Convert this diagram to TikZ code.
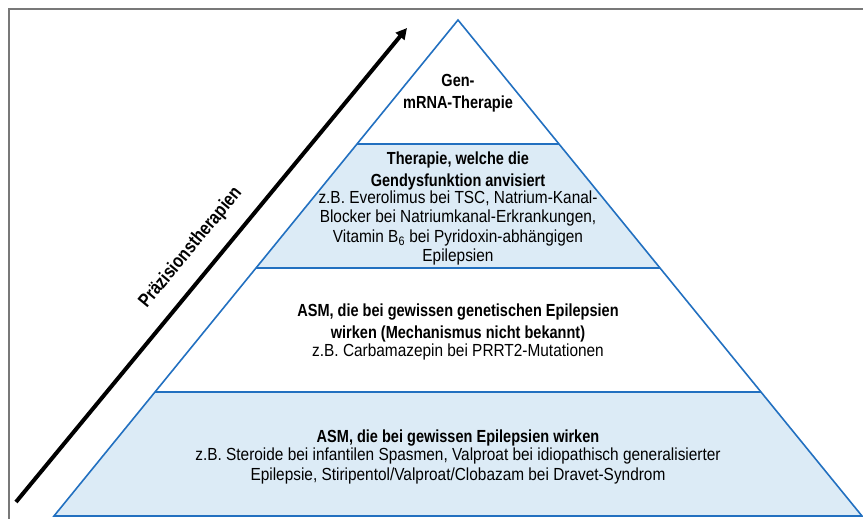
\documentclass[tikz,border=0pt]{standalone}
\usepackage{fontspec}
\setmainfont{Liberation Sans}[FakeStretch=0.88, BoldFeatures={FakeStretch=0.83}]
\usetikzlibrary{arrows.meta}
\usetikzlibrary{positioning}

\definecolor{pyrblue}{RGB}{34,112,192}
\definecolor{pyrfill}{RGB}{220,235,246}
\definecolor{framegray}{RGB}{120,120,120}

\begin{document}
\begin{tikzpicture}[x=1pt,y=-1pt,
    layer/.style={draw=pyrblue, line width=1.6pt, line join=miter},
    head/.style={align=center, inner sep=0pt, font=\bfseries\fontsize{17.5}{22.5}\selectfont},
    body/.style={align=center, inner sep=0pt, font=\fontsize{17.5}{19.5}\selectfont},
    precision/.style={line width=4pt, -{Triangle[length=11pt,width=11pt]}}]
  \useasboundingbox (0,0) rectangle (863,519);
  \draw[framegray, line width=1.2pt] (9,519) -- (9,9) -- (863,9);

  \coordinate (apex) at (458,20);
  \coordinate (l1) at (357,144);
  \coordinate (r1) at (559,144);
  \coordinate (l2) at (256,268);
  \coordinate (r2) at (660,268);
  \coordinate (l3) at (155,392);
  \coordinate (r3) at (761,392);
  \coordinate (l4) at (54,516);
  \coordinate (r4) at (862,516);

  \fill[pyrfill] (l1) -- (r1) -- (r2) -- (l2) -- cycle;
  \fill[pyrfill] (l3) -- (r3) -- (r4) -- (l4) -- cycle;
  \draw[layer] (apex) -- (r4) -- (l4) -- cycle;
  \draw[layer] (l1) -- (r1);
  \draw[layer] (l2) -- (r2);
  \draw[layer] (l3) -- (r3);

  \node[head] (gentherapie) at (458,93) {Gen-\\mRNA-Therapie};

  \node[head] (dysfunktion) at (458,171) {Therapie, welche die\\Gendysfunktion anvisiert};
  \node[body, below=0pt of dysfunktion] (dysbsp) {z.B. Everolimus bei TSC, Natrium-Kanal-\\Blocker bei Natriumkanal-Erkrankungen,\\Vitamin B\textsubscript{6} bei Pyridoxin-abhängigen\\Epilepsien};

  \node[head] (genetisch) at (458,323) {ASM, die bei gewissen genetischen Epilepsien\\wirken (Mechanismus nicht bekannt)};
  \node[body, below=1pt of genetisch] (genbsp) {z.B. Carbamazepin bei PRRT2-Mutationen};

  \node[head] (allgemein) at (458,438) {ASM, die bei gewissen Epilepsien wirken};
  \node[body, below=1pt of allgemein, font=\fontsize{17.5}{20.5}\selectfont] (allgbsp) {z.B. Steroide bei infantilen Spasmen, Valproat bei idiopathisch generalisierter\\Epilepsie, Stiripentol/Valproat/Clobazam bei Dravet-Syndrom};

  \coordinate (pstart) at (16,502);
  \coordinate (pend) at (407,28);
  \draw[precision] (pstart) -- (pend)
    node[pos=0.5, sloped, above=16pt, head, font=\bfseries\fontsize{19}{22}\selectfont] (praezision) {Präzisionstherapien};
\end{tikzpicture}
\end{document}
